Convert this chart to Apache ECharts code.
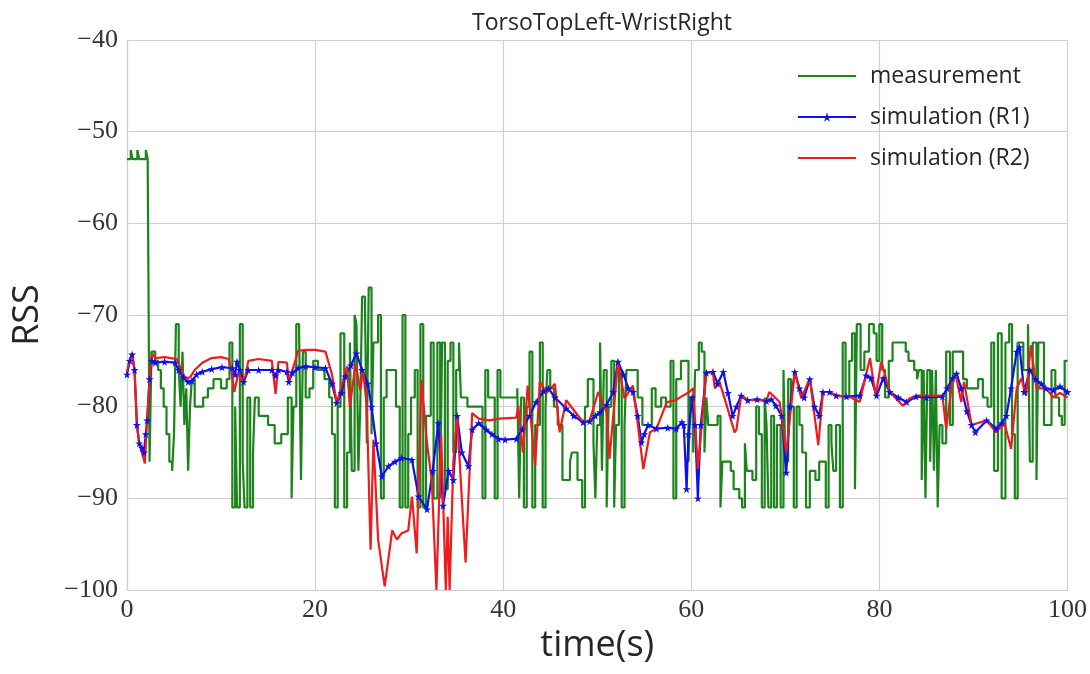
<!DOCTYPE html>
<html>
<head>
<meta charset="utf-8">
<script src="https://cdn.jsdelivr.net/npm/echarts@6/dist/echarts.min.js"></script>
<style>
  html, body { margin: 0; padding: 0; background: #fff; }
  #chart { width: 1090px; height: 674px; }
</style>
</head>
<body>
<div id="chart"></div>
<script>
// RSS over time for link TorsoTopLeft-WristRight
// measurement is sample-and-hold (integer RSS), simulations are smooth traces

var xTicks = [0, 20, 40, 60, 80, 100];
var yTicks = [-100, -90, -80, -70, -60, -50, -40];

// measurement: time (s) and value held from that time
var measT = [0, 0.4, 0.6, 1.1, 1.3, 2.0, 2.2, 2.4, 2.6, 3.0, 3.3, 3.6, 3.9, 4.2, 4.5, 4.8, 5.0, 5.2, 5.5, 5.7, 5.9, 6.1, 6.3, 6.5, 6.7, 6.9, 7.2, 8.1, 8.6, 9.2, 10.0, 10.6,
  10.9, 11.2, 11.5, 11.7, 12.0, 12.3, 12.5, 12.8, 13.1, 13.4, 13.6, 14.0, 15.0, 15.7, 16.4, 17.1, 17.5, 17.7, 18.0, 18.3, 18.5, 18.7, 19.0, 19.4, 19.8, 20.3, 21.0, 21.5,
  21.8, 22.1, 22.4, 22.7, 23.1, 23.4, 23.7, 23.9, 24.2, 24.4, 24.6, 24.8, 25.0, 25.3, 25.5, 25.7, 26.0, 26.2, 26.7, 27.0, 27.3, 27.6, 28.6, 29.0, 29.3, 29.6, 29.9, 30.2, 30.6, 30.9, 31.2, 31.5, 31.8, 32.3, 32.6, 33.0, 33.3, 33.5, 33.8, 34.1, 34.4, 34.7, 35.0, 35.3, 35.5, 36.2, 37.5, 37.8, 38.1, 38.4,
  39.1, 39.4, 39.7, 41.5, 41.7, 41.9, 42.2, 42.5, 42.8, 43.1, 43.4, 43.9, 44.2, 44.5, 44.7, 45.0, 45.4, 45.8, 46.3, 47.1, 47.3, 47.9, 48.4, 48.7, 49.0, 49.6, 49.8, 50.0, 50.3, 50.5, 50.7, 51.0, 51.2, 51.5, 51.8, 52.0, 52.3, 52.6, 52.9, 53.1, 54.3, 54.8, 55.8, 56.2, 56.8, 57.3, 57.8, 58.1, 58.4, 58.9, 59.7, 59.9,
  60.2, 60.4, 60.8, 61.1, 61.4, 61.6, 61.8, 62.8, 63.1, 63.3, 64.2, 64.5, 65.1, 65.4, 65.7, 65.9, 66.5, 66.9, 67.2, 67.5, 67.8, 68.0, 68.2, 68.5, 68.8, 69.1, 69.5, 69.8, 70.0, 70.3, 70.6, 70.9, 71.2, 71.5, 71.8, 72.2, 72.6, 73.2, 73.6, 74.3, 74.6, 74.9, 75.1, 75.4, 75.8, 76.1, 76.4, 76.8, 77.1, 77.4, 77.6, 78.0, 78.4, 78.9, 79.4, 79.7, 80.0, 80.3,
  80.6, 81.0, 81.4, 82.8, 83.1, 83.7, 84.0, 84.2, 84.5, 84.7, 84.9, 85.1, 85.4, 85.6, 85.8, 86.0, 86.2, 86.4, 86.7, 87.1, 87.5, 87.8, 88.9, 89.3, 90.1, 90.5, 91.0, 91.5, 91.9, 92.2, 92.6, 93.0, 93.4, 93.8, 94.1, 94.4, 94.7, 95.3, 95.8, 96.0, 96.3, 96.7, 96.9, 97.5, 98.0, 98.3, 98.7, 99.1, 99.4, 99.7, 100];
var measV = [-53, -52, -53, -52, -53, -52, -53, -86, -74, -75, -76, -78, -80, -83, -86, -87, -83, -71, -76, -80, -74, -82, -78, -87, -80, -77, -80, -79, -78, -77, -78, -77,
  -73, -91, -80, -91, -71, -86, -91, -79, -91, -85, -79, -81, -82, -84, -83, -79, -90, -80, -71, -72, -88, -74, -79, -78, -75, -76, -77, -79,
  -83, -91, -80, -72, -91, -85, -73, -87, -70, -71, -87, -80, -68, -69, -84, -67, -83, -73, -70, -90, -79, -76, -80, -91, -70, -91, -83, -79, -76, -91, -71, -91, -81, -73, -90, -73, -90, -73, -89, -75, -73, -85, -76, -73, -79, -80, -80, -90, -76, -79,
  -90, -76, -79, -78, -90, -79, -91, -80, -74, -91, -82, -73, -91, -80, -76, -78, -80, -82, -88, -86, -85, -88, -91, -80, -77, -84, -90, -82, -73, -87, -76, -91, -80, -75, -91, -82, -76, -91, -82, -76, -79, -82, -78, -80, -79, -80, -75, -90, -77, -75, -86, -79,
  -85, -76, -73, -74, -85, -79, -82, -81, -91, -86, -87, -89, -90, -91, -84, -87, -88, -80, -83, -91, -79, -82, -91, -81, -91, -82, -91, -76, -86, -77, -80, -91, -80, -82, -85, -91, -87, -88, -86, -91, -82, -84, -87, -82, -91, -73, -79, -75, -72, -89, -71, -76, -74, -71, -72, -75, -71, -76,
  -79, -75, -73, -74, -75, -76, -77, -76, -88, -76, -90, -76, -86, -76, -87, -76, -91, -82, -84, -74, -82, -74, -77, -78, -78, -77, -79, -80, -73, -87, -72, -90, -73, -71, -83, -90, -73, -76, -71, -86, -73, -88, -73, -82, -82, -76, -79, -81, -82, -75, -75];

// simulation (R1)
var r1T = [0, 0.3, 0.55, 0.8, 1.05, 1.3, 1.6, 1.8, 2.0, 2.15, 2.4, 2.65, 3.0, 4.0, 5.1, 5.5, 6.0, 6.5, 6.9, 7.4, 8.0, 9.0, 10.1, 11.2, 11.5, 11.7, 12.0, 12.4, 12.9, 14.0, 15.4, 15.8, 16.1, 17.0, 17.2, 17.6, 18.2, 19.0, 20.0,
  21.1, 21.8, 22.3, 22.8, 23.2, 23.8, 24.4, 25.0, 25.6, 26.0, 26.5, 27.1, 27.8, 28.5, 29.2, 30.3, 31.0, 31.9, 32.5, 33.1, 33.6, 34.2, 34.7, 35.1, 35.6, 36.3, 36.7, 37.4, 38.2, 38.8, 39.5, 40.2,
  41.4, 42.0, 42.8, 43.5, 44.3, 44.8, 45.5, 46.7, 47.5, 48.5, 49.2, 49.8, 50.3, 51.0, 51.7, 52.2, 52.8, 53.3, 53.8, 54.3, 54.7, 55.0, 55.4, 56.3, 57.5, 58.4, 59.0, 59.2, 59.5, 59.7, 60.1, 60.4, 60.7,
  61.0, 61.6, 62.3, 62.8, 63.4, 63.9, 64.4, 64.8, 65.3, 66.0, 67.0, 68.0, 68.5, 69.0, 69.6, 70.1, 70.5, 71.0, 71.5, 72.0, 72.6, 73.1, 73.6, 74.0, 74.7, 75.4, 76.5, 77.9, 78.6, 79.1, 79.7, 80.4,
  81.1, 82.0, 82.9, 83.9, 85.0, 86.7, 87.2, 87.8, 88.2, 88.7, 89.3, 89.8, 90.2, 91.4, 92.4, 93.0, 93.5, 94.0, 94.6, 94.9, 95.4, 96.0, 96.6, 97.2, 97.7, 98.5, 99.2, 100];
var r1V = [-76.5, -75, -74.3, -76, -82, -84, -84.5, -85, -83, -81.5, -77, -75, -75.2, -75.1, -75.2, -76, -76.8, -77.3, -77.2, -76.5, -76.2, -75.9, -75.7, -75.8, -76.5, -75.1, -76, -77.3, -76, -76, -76, -76.6, -76, -76.2, -77.3, -76.3, -75.8, -75.6, -75.7,
  -75.8, -77.5, -79.6, -78.5, -76.7, -75.5, -74.2, -76, -77.5, -80, -84, -87.6, -86.5, -86, -85.6, -85.8, -89.8, -91.2, -87, -81.8, -90.8, -87, -88, -81, -85, -86.5, -82.5, -81.8, -82.5, -83, -83.5, -83.6,
  -83.5, -82.5, -81, -79.5, -78.3, -78, -79, -80.2, -81, -81.7, -81.6, -81, -80.6, -79.8, -78.4, -75.1, -76.5, -78, -78.4, -81, -83.9, -83, -82, -82.4, -82.3, -82.4, -81.7, -82, -89, -83, -79, -82, -90,
  -82, -76.3, -76.2, -77.5, -76.2, -78.5, -81, -80, -78.8, -79.3, -79.2, -79.4, -79.2, -79.9, -81, -87.2, -80, -76.2, -78, -79, -77, -80, -81, -78.4, -78.4, -78.8, -78.9, -78.8, -76.6, -76.9, -78.8, -76.9,
  -78.4, -79, -79.5, -78.9, -79, -78.9, -78, -76.9, -76.4, -78, -80.5, -82, -82.8, -81.5, -82.4, -81.8, -81, -78, -74, -73.5, -78.4, -76, -77, -77.5, -78, -78.2, -77.8, -78.4];

// simulation (R2)
var r2T = [0, 0.3, 0.55, 0.8, 1.06, 1.3, 1.6, 1.9, 2.1, 2.4, 2.66, 3.0, 4.0, 5.3, 5.7, 6.2, 6.7, 7.2, 8.0, 9.0, 10.0, 10.8, 11.1, 11.4, 11.7, 11.9, 12.2, 12.6, 12.9, 14.0, 15.4, 15.8, 16.1, 17.0, 17.2, 17.6, 18.2, 19.0, 20.0,
  21.1, 21.8, 22.3, 22.8, 23.4, 23.7, 24.3, 24.8, 25.1, 25.5, 25.9, 26.2, 26.7, 27.4, 28.2, 28.7, 29.2, 29.9, 30.3, 30.8, 31.3, 31.9, 32.4, 32.9, 33.4, 33.9, 34.1, 34.3, 34.7, 35.1, 35.6, 36.0, 36.7, 37.4, 38.5, 39.6,
  41.4, 41.6, 42.1, 42.6, 43.4, 43.9, 44.6, 45.5, 46.0, 46.7, 47.6, 48.5, 49.2, 50.1, 51.0, 51.3, 52.2, 52.9, 53.8, 54.9, 55.6, 56.3, 57.4, 58.3, 59.1, 59.8,
  60.2, 60.7, 61.6, 62.3, 62.5, 63.0, 63.8, 64.6, 64.8, 65.3, 66.0, 68.0, 68.3, 69.4, 70.1, 71.0, 71.7, 72.6, 73.5, 74.0, 74.7, 75.4, 77.0, 77.9, 79.0, 79.6, 80.2,
  81.1, 82.5, 83.2, 83.9, 86.7, 87.1, 87.8, 88.2, 88.7, 89.0, 89.8, 91.4, 92.4, 93.3, 94.0, 94.6, 95.1, 95.6, 96.1, 96.7, 97.7, 98.5, 99.2, 100];
var r2V = [-76.2, -74.8, -74.2, -76, -82, -84, -85, -86.2, -82, -77, -74.2, -74.7, -74.6, -74.8, -75.8, -76.9, -76.8, -76, -75.2, -74.7, -74.6, -74.8, -76, -78.4, -77, -76.2, -77.2, -76.6, -75, -74.8, -75, -78.6, -75.1, -75.2, -77.1, -76, -73.9, -73.8, -73.8,
  -74, -76.5, -79.6, -77.8, -75.6, -80, -75.3, -78.2, -76, -80, -95.6, -83.6, -94.5, -99.6, -93.5, -94.5, -93.8, -93.5, -89.8, -96, -77.1, -84, -88, -100, -83, -100, -92, -100, -86, -81, -90, -97, -80.7, -81.3, -81.5, -81.3,
  -81.2, -79.9, -85, -77.7, -86.4, -77.3, -78.5, -77.5, -82.8, -79.3, -80.5, -81.7, -81.5, -78.4, -80.6, -85.7, -75.1, -79.1, -77.7, -86.8, -82.8, -82.4, -79.5, -79.3, -78.8, -78.4,
  -78, -86.8, -76.2, -76.3, -78, -77.3, -80, -82.8, -82.5, -78.8, -79.3, -79.3, -78.4, -79.5, -85, -76.2, -79.1, -76.9, -84.2, -78.4, -78.4, -78.8, -79, -79.5, -74.7, -78.8, -75.1,
  -78.4, -79.9, -79.1, -78.8, -78.8, -82.4, -76.9, -76.9, -79.5, -77.3, -82, -81.5, -82.8, -81.8, -84.6, -78, -76.9, -78.8, -73.3, -78, -78, -79, -78.5, -79];

function pairs(ts, vs) {
  return ts.map(function(t, i) { return [t, vs[i]]; });
}

var starPath = 'path://M50,0 L61,35 L98,35 L68,57 L79,91 L50,70 L21,91 L32,57 L2,35 L39,35 Z';
var gridColor = '#cfcfcf';
var inkColor = '#262626';
var tickFont = { color: '#333', fontFamily: 'Liberation Serif', fontSize: 26 };

var chart = echarts.init(document.getElementById('chart'), null, { renderer: 'canvas' });
chart.setOption({
  animation: false,
  backgroundColor: '#fff',
  title: {
    text: 'TorsoTopLeft-WristRight',
    left: 597,
    top: 7,
    textAlign: 'center',
    textStyle: { color: inkColor, fontFamily: 'Open Sans', fontWeight: 'normal', fontSize: 23 }
  },
  legend: {
    orient: 'vertical',
    left: 792,
    top: 59,
    itemWidth: 58,
    itemHeight: 12,
    itemGap: 17,
    itemStyle: { opacity: 0 },
    textStyle: { color: inkColor, fontFamily: 'Open Sans', fontSize: 23, lineHeight: 24, padding: [0, 0, 0, 9] },
    data: [
      { name: 'measurement' },
      { name: 'simulation (R1)', itemStyle: { opacity: 1 } },
      { name: 'simulation (R2)' }
    ]
  },
  grid: { left: 127, right: 22, top: 40, bottom: 84, containLabel: false },
  xAxis: {
    type: 'value',
    min: xTicks[0],
    max: xTicks[xTicks.length - 1],
    interval: 20,
    name: 'time(s)',
    nameLocation: 'middle',
    nameGap: 32,
    nameTextStyle: { color: inkColor, fontFamily: 'Open Sans', fontSize: 36 },
    axisLine: { lineStyle: { color: gridColor, width: 1.2 } },
    axisTick: { show: false },
    axisLabel: Object.assign({ margin: 7 }, tickFont),
    splitLine: { lineStyle: { color: gridColor, width: 1.2 } }
  },
  yAxis: {
    type: 'value',
    min: yTicks[0],
    max: yTicks[yTicks.length - 1],
    interval: 10,
    name: 'RSS',
    nameLocation: 'middle',
    nameGap: 81,
    nameRotate: 90,
    nameTextStyle: { color: inkColor, fontFamily: 'Open Sans', fontSize: 36 },
    axisLine: { show: true, lineStyle: { color: gridColor, width: 1.2 } },
    axisTick: { show: false },
    axisLabel: Object.assign({
      margin: 9,
      formatter: function(v) { return String(v).replace('-', '\u2212'); }
    }, tickFont),
    splitLine: { lineStyle: { color: gridColor, width: 1.2 } }
  },
  series: [
    {
      name: 'measurement',
      type: 'line',
      step: 'end',
      data: pairs(measT, measV),
      symbol: 'none',
      lineStyle: { color: '#1b841b', width: 2.2 },
      itemStyle: { color: '#1b841b' }
    },
    {
      name: 'simulation (R1)',
      type: 'line',
      data: pairs(r1T, r1V),
      symbol: starPath,
      symbolSize: 8,
      showSymbol: true,
      showAllSymbol: true,
      lineStyle: { color: '#1010e8', width: 2.2 },
      itemStyle: { color: '#1010e8' }
    },
    {
      name: 'simulation (R2)',
      type: 'line',
      data: pairs(r2T, r2V),
      symbol: 'none',
      lineStyle: { color: '#ee1c1c', width: 2.2 },
      itemStyle: { color: '#ee1c1c' }
    }
  ]
});
</script>
</body>
</html>
